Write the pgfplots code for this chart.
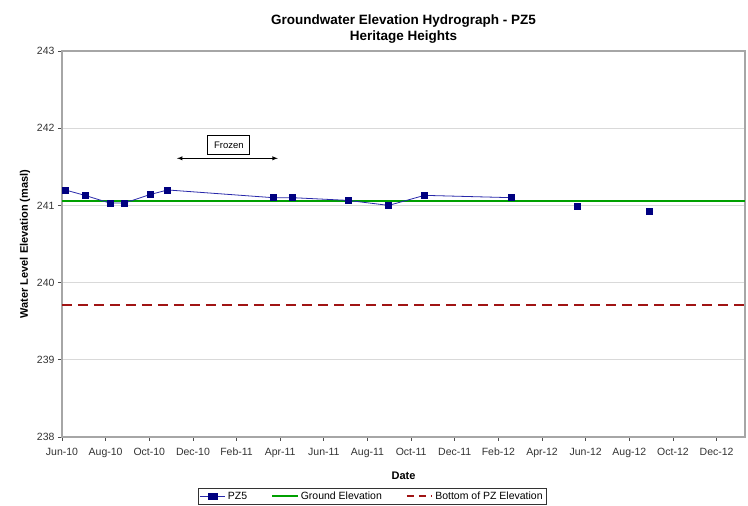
\documentclass[border=0pt]{standalone}
\usepackage{fontspec}
\setmainfont{Liberation Sans}
\usepackage{pgfplots}
\pgfplotsset{compat=1.18}
\definecolor{pzline}{RGB}{40,40,170}
\definecolor{pzmark}{RGB}{0,0,128}
\definecolor{gndcol}{RGB}{0,160,0}
\definecolor{botcol}{RGB}{160,20,20}
\begin{document}
\begin{tikzpicture}
\begin{axis}[
 scale only axis, width=683pt, height=386pt,
 xmin=0, xmax=31.3, ymin=238, ymax=243,
 xtick={0,2,...,30},
 xticklabels={Jun-10,Aug-10,Oct-10,Dec-10,Feb-11,Apr-11,Jun-11,Aug-11,Oct-11,Dec-11,Feb-12,Apr-12,Jun-12,Aug-12,Oct-12,Dec-12},
 ytick={238,239,240,241,242,243},
 xtick pos=bottom, ytick pos=left,
 ymajorgrids, grid style={gray!30, line width=1pt},
 tick align=outside, major tick length=4pt,
 tick style={gray!60!black, line width=0.8pt},
 axis line style={gray!70, line width=1.6pt},
 ticklabel style={font=\fontsize{10.5}{12}\selectfont, text=black!80},
 xticklabel style={text height=8pt, text depth=2pt, yshift=-3pt},
 /pgf/number format/assume math mode=true,
 xlabel={Date}, ylabel={Water Level Elevation (masl)},
 label style={font=\fontsize{11}{13}\selectfont\bfseries},
 xlabel style={yshift=-8pt},
 title={Groundwater Elevation Hydrograph - PZ5\\Heritage Heights},
 title style={align=center, font=\fontsize{13.5}{16}\selectfont\bfseries, yshift=-2pt},
 legend style={at={(0.454,-0.132)}, anchor=north, legend columns=3, draw=black!80,
   font=\fontsize{10.5}{12}\selectfont, inner sep=1.5pt,
   /tikz/every even column/.append style={column sep=22pt}},
 legend image post style={xscale=1.5},
 legend cell align=left,
]
\addlegendimage{pzline, line width=0.8pt, mark=square*, mark size=3pt, mark options={pzmark, solid}}
\addlegendentry{PZ5}
\addlegendimage{gndcol, line width=2pt}
\addlegendentry{Ground Elevation}
\addlegendimage{botcol, line width=1.8pt, dash pattern=on 7pt off 5pt}
\addlegendentry{Bottom of PZ Elevation}

\addplot[forget plot, draw=gndcol, line width=2pt] coordinates {(0,241.055) (31.3,241.055)};
\addplot[forget plot, draw=botcol, line width=1.8pt, dash pattern=on 10pt off 6pt] coordinates {(0,239.71) (31.3,239.71)};
\addplot[forget plot, pzline, line width=0.8pt, mark=square*, mark size=3pt, mark options={pzmark, solid}] coordinates {
 (0.15,241.20) (1.05,241.13) (2.20,241.03) (2.85,241.03) (4.03,241.14) (4.84,241.20)
 (9.68,241.10) (10.57,241.10) (13.11,241.065) (14.97,241.00) (16.61,241.13) (20.61,241.10)
};
\addplot[forget plot, only marks, mark=square*, mark size=3pt, mark options={pzmark, solid}] coordinates {
 (23.59,240.99) (26.89,240.93)
};
\draw[<->, >=latex, line width=0.9pt] (axis cs:5.27,241.61) -- (axis cs:9.89,241.61);
\node[draw, line width=1pt, font=\fontsize{9.5}{11}\selectfont, minimum width=42pt, minimum height=19pt] at (axis cs:7.65,241.78) {Frozen};
\end{axis}
\pgfresetboundingbox
\useasboundingbox (-62pt,-69pt) rectangle (686pt,437pt);
\end{tikzpicture}
\end{document}
